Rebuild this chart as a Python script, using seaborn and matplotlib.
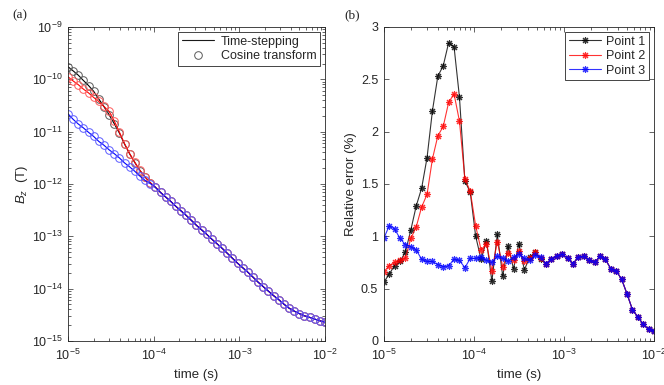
import numpy as np
import pandas as pd
import seaborn as sns
import matplotlib.pyplot as plt
from matplotlib import ticker
from matplotlib.lines import Line2D

## Data: ========================================================================
# 51 samples, evenly spaced in log time from 1e-5 s to 1e-2 s
time_s = np.logspace(-5, -2, 51)

# (a) B_z (T) at the three points
bz_p1 = [1.74e-10, 1.45e-10, 1.2e-10, 9.5e-11, 7.6e-11, 5.9e-11, 4.2e-11, 3.0e-11, 2.1e-11, 1.42e-11,
         9.4e-12, 5.8e-12, 3.76e-12, 2.57e-12, 1.81e-12, 1.36e-12, 1.06e-12, 8.7e-13, 6.9e-13, 5.65e-13,
         4.64e-13, 3.73e-13, 3.06e-13, 2.51e-13, 2.02e-13, 1.62e-13, 1.33e-13, 1.09e-13, 8.8e-14, 7.2e-14,
         5.9e-14, 4.74e-14, 3.81e-14, 3.06e-14, 2.51e-14, 2.06e-14, 1.66e-14, 1.33e-14, 1.09e-14, 8.95e-15,
         7.36e-15, 6.17e-15, 5.07e-15, 4.25e-15, 3.73e-15, 3.34e-15, 3.03e-15, 2.83e-15, 2.62e-15, 2.44e-15,
         2.27e-15]
bz_p2 = [1.12e-10, 9.3e-11, 7.9e-11, 6.5e-11, 5.5e-11, 4.5e-11, 3.77e-11, 3.03e-11, 2.44e-11, 1.6e-11,
         9.8e-12, 5.9e-12, 3.8e-12, 2.6e-12, 1.82e-12, 1.36e-12, 1.06e-12, 8.7e-13, 6.9e-13, 5.65e-13,
         4.64e-13, 3.73e-13, 3.06e-13, 2.51e-13, 2.02e-13, 1.62e-13, 1.33e-13, 1.09e-13, 8.8e-14, 7.2e-14,
         5.9e-14, 4.74e-14, 3.81e-14, 3.06e-14, 2.51e-14, 2.06e-14, 1.66e-14, 1.33e-14, 1.09e-14, 8.95e-15,
         7.36e-15, 6.17e-15, 5.07e-15, 4.25e-15, 3.73e-15, 3.34e-15, 3.03e-15, 2.83e-15, 2.62e-15, 2.44e-15,
         2.27e-15]
bz_p3 = [2.2e-11, 1.72e-11, 1.4e-11, 1.18e-11, 9.7e-12, 8.1e-12, 6.5e-12, 5.5e-12, 4.5e-12, 3.8e-12,
         3.15e-12, 2.53e-12, 2.12e-12, 1.75e-12, 1.41e-12, 1.17e-12, 1.02e-12, 8.6e-13, 6.9e-13, 5.65e-13,
         4.64e-13, 3.73e-13, 3.06e-13, 2.51e-13, 2.02e-13, 1.62e-13, 1.33e-13, 1.09e-13, 8.8e-14, 7.2e-14,
         5.9e-14, 4.74e-14, 3.81e-14, 3.06e-14, 2.51e-14, 2.06e-14, 1.66e-14, 1.33e-14, 1.09e-14, 8.95e-15,
         7.36e-15, 6.17e-15, 5.07e-15, 4.25e-15, 3.73e-15, 3.34e-15, 3.03e-15, 2.83e-15, 2.62e-15, 2.44e-15,
         2.27e-15]

# (b) relative error (%)
err_p1 = [0.56, 0.64, 0.72, 0.76, 0.85, 1.06, 1.29, 1.46, 1.75, 2.20,
          2.53, 2.63, 2.85, 2.81, 2.33, 1.53, 1.42, 1.00, 0.78, 0.96,
          0.57, 1.02, 0.62, 0.91, 0.69, 0.93, 0.68, 0.80, 0.85, 0.78,
          0.74, 0.78, 0.81, 0.83, 0.79, 0.74, 0.80, 0.81, 0.77, 0.75,
          0.81, 0.78, 0.69, 0.67, 0.59, 0.45, 0.30, 0.23, 0.16, 0.11, 0.096]
err_p2 = [0.66, 0.72, 0.75, 0.77, 0.79, 0.98, 1.09, 1.28, 1.40, 1.74,
          1.96, 2.05, 2.28, 2.36, 2.10, 1.55, 1.43, 1.10, 0.87, 0.93,
          0.67, 0.95, 0.71, 0.84, 0.77, 0.86, 0.76, 0.79, 0.85, 0.79,
          0.74, 0.78, 0.81, 0.83, 0.79, 0.74, 0.80, 0.81, 0.77, 0.75,
          0.81, 0.78, 0.69, 0.67, 0.59, 0.45, 0.30, 0.23, 0.16, 0.11, 0.096]
err_p3 = [0.98, 1.10, 1.07, 0.98, 0.92, 0.90, 0.87, 0.78, 0.76, 0.76,
          0.73, 0.71, 0.72, 0.78, 0.77, 0.70, 0.79, 0.79, 0.80, 0.77,
          0.75, 0.81, 0.79, 0.76, 0.80, 0.83, 0.79, 0.77, 0.82, 0.80,
          0.74, 0.78, 0.81, 0.83, 0.79, 0.74, 0.80, 0.81, 0.77, 0.75,
          0.81, 0.78, 0.69, 0.67, 0.59, 0.45, 0.30, 0.23, 0.16, 0.11, 0.096]

point_names = ["Point 1", "Point 2", "Point 3"]
point_colors = ["#000000", "#ff0000", "#0000ff"]
circle_colors = ["#5a5a5a", "#ff5c5c", "#5c5cff"]   # lighter open circles of the cosine transform

bz_df = pd.DataFrame({"time": time_s, "Point 1": bz_p1, "Point 2": bz_p2, "Point 3": bz_p3})
err_df = pd.DataFrame({"time": time_s, "Point 1": err_p1, "Point 2": err_p2, "Point 3": err_p3})

## Style: =======================================================================
sns.set_theme(style="ticks")
plt.rcParams["font.family"] = ["Liberation Sans", "DejaVu Sans"]
plt.rcParams.update({
    "mathtext.fontset": "custom",
    "mathtext.rm": "Liberation Sans",
    "mathtext.it": "Liberation Sans:italic",
    "axes.linewidth": 0.6,
    "axes.edgecolor": "#262626",
    "xtick.direction": "in", "ytick.direction": "in",
    "xtick.top": True, "ytick.right": True,
    "xtick.major.size": 3.5, "ytick.major.size": 3.5,
    "xtick.minor.size": 2, "ytick.minor.size": 2,
    "xtick.major.width": 0.5, "ytick.major.width": 0.5,
    "xtick.minor.width": 0.5, "ytick.minor.width": 0.5,
    "xtick.major.pad": 5, "ytick.major.pad": 4,
    "xtick.labelsize": 9, "ytick.labelsize": 9,
    "xtick.color": "#262626", "ytick.color": "#262626",
})

fig = plt.figure(figsize=(6.64, 3.85), dpi=100)
ax1 = fig.add_axes([0.1024, 0.1143, 0.387, 0.8156])
ax2 = fig.add_axes([0.578, 0.1143, 0.407, 0.8156])

## (a) ==========================================================================
for name, c, cc in zip(point_names, point_colors, circle_colors):
    sns.lineplot(data=bz_df, x="time", y=name, color=c, lw=0.8, ax=ax1)
    sns.lineplot(data=bz_df, x="time", y=name, color=cc, ls="none", marker="o", ms=5.5,
                 mfc="none", mec=cc, mew=0.7, ax=ax1)

ax1.set_xscale("log")
ax1.set_yscale("log")
ax1.set_xlim(1e-5, 1e-2)
ax1.set_ylim(1e-15, 1e-9)
for axis in (ax1.xaxis, ax1.yaxis):
    axis.set_major_locator(ticker.LogLocator(base=10, numticks=12))
    axis.set_minor_locator(ticker.LogLocator(base=10, subs=np.arange(2, 10), numticks=12))
    axis.set_minor_formatter(ticker.NullFormatter())
ax1.set_xlabel("time (s)", fontsize=9.5, labelpad=4)
ax1.set_ylabel("$B_z$  (T)", fontsize=9.5, labelpad=1)
ax1.legend(handles=[Line2D([], [], color="k", lw=0.8, label="Time-stepping"),
                    Line2D([], [], color=circle_colors[0], ls="none", marker="o", ms=5.5,
                           mfc="none", mew=0.7, label="Cosine transform")],
           loc="upper right", fancybox=False, edgecolor="#262626", framealpha=1,
           fontsize=9, handlelength=2.6, borderaxespad=0.4, borderpad=0.3,
           labelspacing=0.2, handletextpad=0.5).get_frame().set_linewidth(0.6)

## (b) ==========================================================================
for name, c in zip(point_names, point_colors):
    sns.lineplot(data=err_df, x="time", y=name, color=c, lw=0.8, marker=(8, 2, 0), ms=5,
                 mec=c, mew=0.8, alpha=0.8, label=name, ax=ax2)

ax2.set_xscale("log")
ax2.set_xlim(1e-5, 1e-2)
ax2.set_ylim(0, 3)
ax2.xaxis.set_major_locator(ticker.LogLocator(base=10, numticks=12))
ax2.xaxis.set_minor_locator(ticker.LogLocator(base=10, subs=np.arange(2, 10), numticks=12))
ax2.xaxis.set_minor_formatter(ticker.NullFormatter())
ax2.yaxis.set_major_locator(ticker.MultipleLocator(0.5))
ax2.yaxis.set_major_formatter(ticker.FuncFormatter(lambda v, p: "{:g}".format(v)))
ax2.set_xlabel("time (s)", fontsize=9.5, labelpad=4)
ax2.set_ylabel("Relative error (%)", fontsize=9.5, labelpad=3)
ax2.legend(loc="upper right", fancybox=False, edgecolor="#262626", framealpha=1,
           fontsize=9, handlelength=2.6, borderaxespad=0.4, borderpad=0.3,
           labelspacing=0.2, handletextpad=0.4).get_frame().set_linewidth(0.6)

fig.text(0.018, 0.961, "(a)", family=["Liberation Serif", "DejaVu Serif"], fontsize=9.5, va="center")
fig.text(0.518, 0.961, "(b)", family=["Liberation Serif", "DejaVu Serif"], fontsize=9.5, va="center")

plt.savefig("out.png", dpi=100)
plt.close()
